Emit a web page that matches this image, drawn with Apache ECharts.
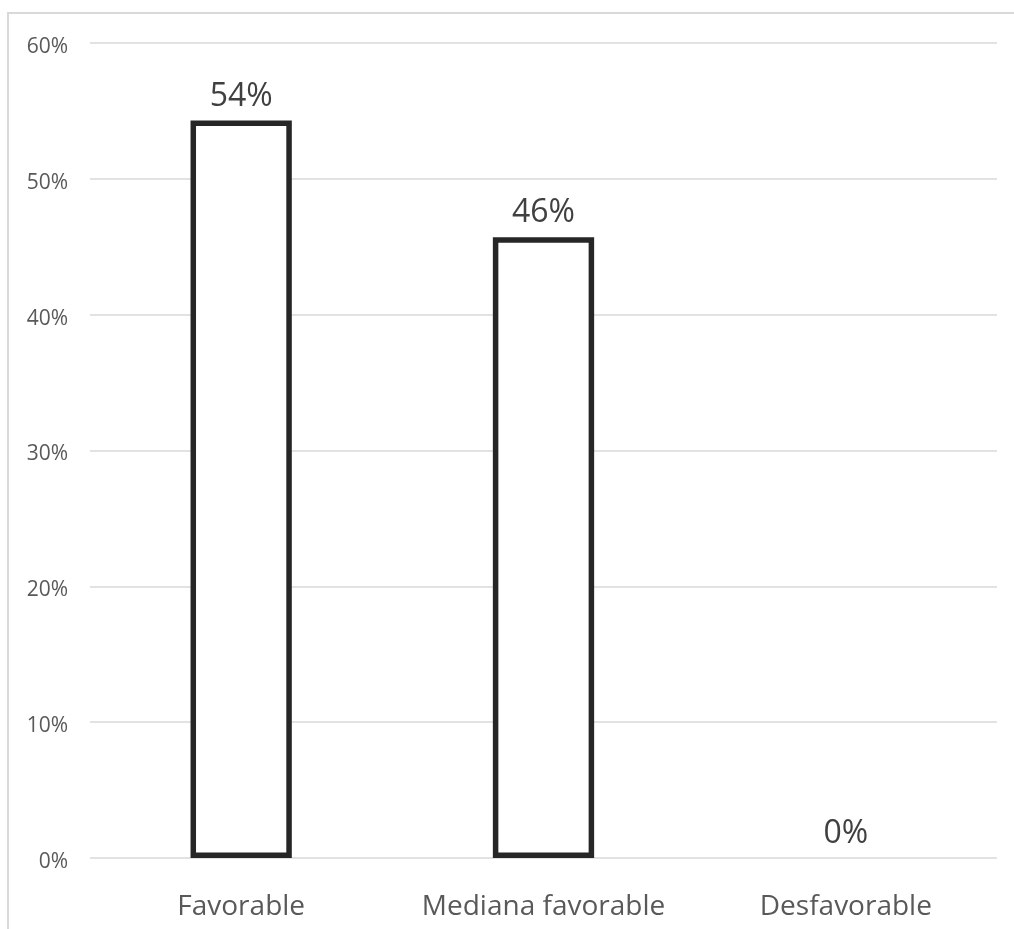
<!DOCTYPE html>
<html>
<head>
<meta charset="utf-8">
<script src="https://cdn.jsdelivr.net/npm/echarts@6/dist/echarts.min.js"></script>
<style>
  html, body { margin: 0; padding: 0; background: #ffffff; }
  #chart { width: 1014px; height: 929px; }
</style>
</head>
<body>
<div id="chart"></div>
<script>
// Share of responses per opinion category (percent)
const categories = ['Favorable', 'Mediana favorable', 'Desfavorable'];
const shares = [54.3, 45.7, 0];
const yTicks = [0, 10, 20, 30, 40, 50, 60];

const chart = echarts.init(document.getElementById('chart'));
const font = '"Open Sans", "Liberation Sans", sans-serif';

// Empty bars draw no outline
const barData = shares.map(v => ({
  value: v,
  itemStyle: v === 0 ? { borderWidth: 0 } : undefined
}));

chart.setOption({
  backgroundColor: '#ffffff',
  animation: false,
  graphic: [{
    type: 'rect',
    shape: { x: 8, y: 13, width: 1100, height: 1000 },
    style: { fill: 'none', stroke: '#d9d9d9', lineWidth: 2 },
    silent: true
  }],
  grid: { left: 90, right: 17, top: 43, bottom: 71 },
  xAxis: {
    type: 'category',
    data: categories,
    axisLine: { show: false },
    axisTick: { show: false },
    axisLabel: {
      interval: 0, hideOverlap: false,
      color: '#595959', fontSize: 28, fontFamily: font, margin: 35
    }
  },
  yAxis: {
    type: 'value',
    min: yTicks[0],
    max: yTicks[yTicks.length - 1],
    interval: 10,
    axisLine: { show: false },
    axisTick: { show: false },
    splitLine: { lineStyle: { color: '#d9d9d9', width: 1.5 } },
    axisLabel: {
      color: '#595959', fontSize: 21, fontFamily: font, margin: 22,
      verticalAlign: 'top', lineHeight: 8,
      formatter: v => v + '%'
    }
  },
  series: [{
    type: 'bar',
    data: barData,
    barWidth: '33.5%',
    itemStyle: { color: '#ffffff', borderColor: '#262626', borderWidth: 5.5 },
    label: {
      show: true,
      position: 'top',
      distance: 8,
      color: '#404040',
      fontSize: 32,
      fontFamily: font,
      formatter: p => Math.round(p.value) + '%'
    }
  }]
});
</script>
</body>
</html>
